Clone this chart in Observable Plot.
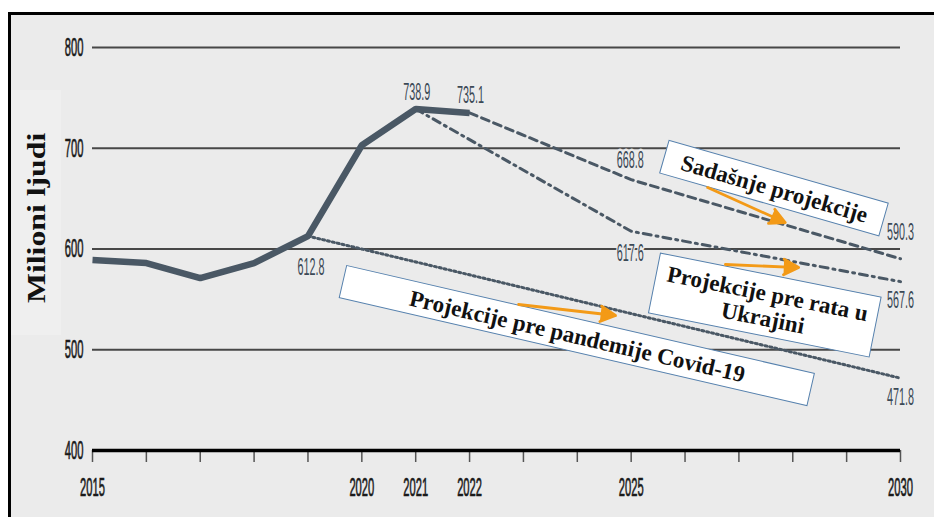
<!DOCTYPE html>
<html><head><meta charset="utf-8">
<script src="https://cdn.jsdelivr.net/npm/d3@7"></script>
<script src="https://cdn.jsdelivr.net/npm/@observablehq/plot@0.6"></script>
<style>
html,body{margin:0;padding:0;background:#fff;}
#wrap{position:relative;width:934px;height:517px;overflow:hidden;}
#frame{position:absolute;left:8px;top:12px;width:926px;height:505px;box-sizing:border-box;background:#ebebeb;border-left:3px solid #000;border-top:3px solid #000;}
#titlepanel{position:absolute;left:11px;top:90px;width:50px;height:245px;background:#efefef;}
#chart{position:absolute;left:0;top:0;}
</style></head><body>
<div id="wrap"><div id="frame"></div><div id="titlepanel"></div><div id="chart"></div></div>
<script>
// ---- data ----
const histYears = [2015, 2016, 2017, 2018, 2019, 2020, 2021, 2022];
const histValues = [589, 586, 571, 586, 612.8, 703, 738.9, 735.1];
const currentYears = [2022, 2025, 2030];
const currentValues = [735.1, 668.8, 590.3];
const prewarYears = [2021, 2025, 2030];
const prewarValues = [738.9, 617.6, 567.6];
const prepandemicYears = [2019, 2030];
const prepandemicValues = [612.8, 471.8];
const yTicks = [400, 500, 600, 700, 800];
const xTicks = [2015, 2016, 2017, 2018, 2019, 2020, 2021, 2022, 2023, 2024, 2025, 2026, 2027, 2028, 2029, 2030];
const xTickLabels = [2015, 2020, 2021, 2022, 2025, 2030];
const yTitle = "Milioni ljudi";
const seriesNames = ["Sadašnje projekcije", "Projekcije pre rata u\nUkrajini", "Projekcije pre pandemije Covid-19"];

// labelled points (year, value) taken from the series
const labelled = [
  [histYears[6], histValues[6]],
  [histYears[7], histValues[7]],
  [histYears[4], histValues[4]],
  [currentYears[1], currentValues[1]],
  [prewarYears[1], prewarValues[1]],
  [currentYears[2], currentValues[2]],
  [prewarYears[2], prewarValues[2]],
  [prepandemicYears[1], prepandemicValues[1]]
];
// label offsets (px)
const labelOffsets = [[1,-17],[1,-18],[3,31],[-1,-19],[-1,22],[0,-26],[0,19],[0,19]];

// annotation boxes anchored in data units
const boxes = [
  {name: seriesNames[0], year: 2027.66, value: 660.0, angle: 16, w: 228, h: 34},
  {name: seriesNames[1], year: 2027.49, value: 543.9, angle: 11.3, w: 225, h: 61},
  {name: seriesNames[2], year: 2024.0, value: 513.6, angle: 13, w: 480, h: 33}
];
const arrows = [
  {x1: 2026.42, y1: 661.0, x2: 2027.86, y2: 626.3},
  {x1: 2026.75, y1: 584.6, x2: 2028.11, y2: 581.6},
  {x1: 2022.91, y1: 544.9, x2: 2024.71, y2: 534.0}
];

const slate = "#4a5865";
const boxMark = (index, {x, y}) => {
  const g = d3.create("svg:g");
  for (const b of boxes) {
    g.append("rect")
      .attr("x", -b.w / 2).attr("y", -b.h / 2)
      .attr("width", b.w).attr("height", b.h)
      .attr("transform", `translate(${x(b.year)},${y(b.value)}) rotate(${b.angle})`)
      .attr("fill", "#fff").attr("stroke", "#5580ad").attr("stroke-width", 1);
  }
  return g.node();
};

const valueMarks = labelled.map((d, i) => Plot.text([d], {
  x: p => p[0], y: p => p[1], text: p => p[1].toFixed(1),
  dx: labelOffsets[i][0], dy: labelOffsets[i][1],
  fontSize: 24, fontStyle: "normal", fill: "#3b4956", stroke: "#ebebeb", strokeWidth: 5
}));

const chart = Plot.plot({
  width: 934, height: 517,
  marginLeft: 92, marginRight: 34, marginTop: 47, marginBottom: 67,
  style: {background: "transparent", color: "#1a1a1a", fontFamily: "'Liberation Sans', Arial, sans-serif", overflow: "visible"},
  x: {domain: [2015, 2030]},
  y: {domain: [400, 800]},
  marks: [
    Plot.ruleY(yTicks.filter(d => d > 400), {stroke: "#474747", strokeWidth: 2.2}),
    Plot.axisY(yTicks, {tickSize: 0, tickPadding: 9, fontSize: 26, label: null}),
    Plot.axisX(xTicks, {tickSize: 12, tickPadding: 15, fontSize: 26, label: null, stroke: "#555", strokeWidth: 1.5,
      tickFormat: d => xTickLabels.includes(d) ? String(d) : ""}),
    Plot.ruleY([400], {stroke: "#000", strokeWidth: 3.5}),
    Plot.text([yTitle], {frameAnchor: "left", dx: -56, dy: 54, rotate: -90, textAnchor: "start", fontSize: 25, fontWeight: "bold",
      fontVariant: "normal", fontFamily: "'Liberation Serif', 'Times New Roman', serif", fill: "#111"}),
    boxMark,
    Plot.line(prepandemicYears, {x: d => d, y: (d, i) => prepandemicValues[i], stroke: slate, strokeWidth: 3, strokeDasharray: "2,3"}),
    Plot.line(prewarYears, {x: d => d, y: (d, i) => prewarValues[i], stroke: slate, strokeWidth: 3, strokeDasharray: "8,5,2,5"}),
    Plot.line(currentYears, {x: d => d, y: (d, i) => currentValues[i], stroke: slate, strokeWidth: 3, strokeDasharray: "8,5"}),
    Plot.line(histYears, {x: d => d, y: (d, i) => histValues[i], stroke: slate, strokeWidth: 6.5, strokeLinejoin: "miter", strokeLinecap: "butt"}),
    Plot.text(boxes, {x: "year", y: "value", text: "name", rotate: "angle", fontSize: 23, fontWeight: "bold",
      fontFamily: "'Liberation Serif', 'Times New Roman', serif", fill: "#111", lineHeight: 1.08}),
    Plot.arrow(arrows, {x1: "x1", y1: "y1", x2: "x2", y2: "y2", stroke: "#f39a17", fill: "#f39a17", strokeWidth: 2.8, headLength: 9, headAngle: 55}),
    ...valueMarks
  ]
});
document.getElementById("chart").appendChild(chart);

// condense / stretch glyphs in place (the reference uses a condensed typeface)
function squeeze(texts, sx, thicken) {
  texts.forEach(t => {
    const len = t.getComputedTextLength();
    if (len > 0) {
      t.setAttribute("textLength", (len * sx).toFixed(2));
      t.setAttribute("lengthAdjust", "spacingAndGlyphs");
    }
    if (thicken) {
      t.setAttribute("stroke", "#1a1a1a");
      t.setAttribute("stroke-width", thicken);
    }
  });
}
squeeze(chart.querySelectorAll('g[aria-label="y-axis tick label"] text'), 0.43, 0.7);
squeeze(chart.querySelectorAll('g[aria-label="x-axis tick label"] text'), 0.43, 0.7);
squeeze(chart.querySelectorAll('g[font-style="normal"] text'), 0.45);
squeeze(chart.querySelectorAll('g[font-variant="normal"] text'), 1.27);
</script>
</body></html>
